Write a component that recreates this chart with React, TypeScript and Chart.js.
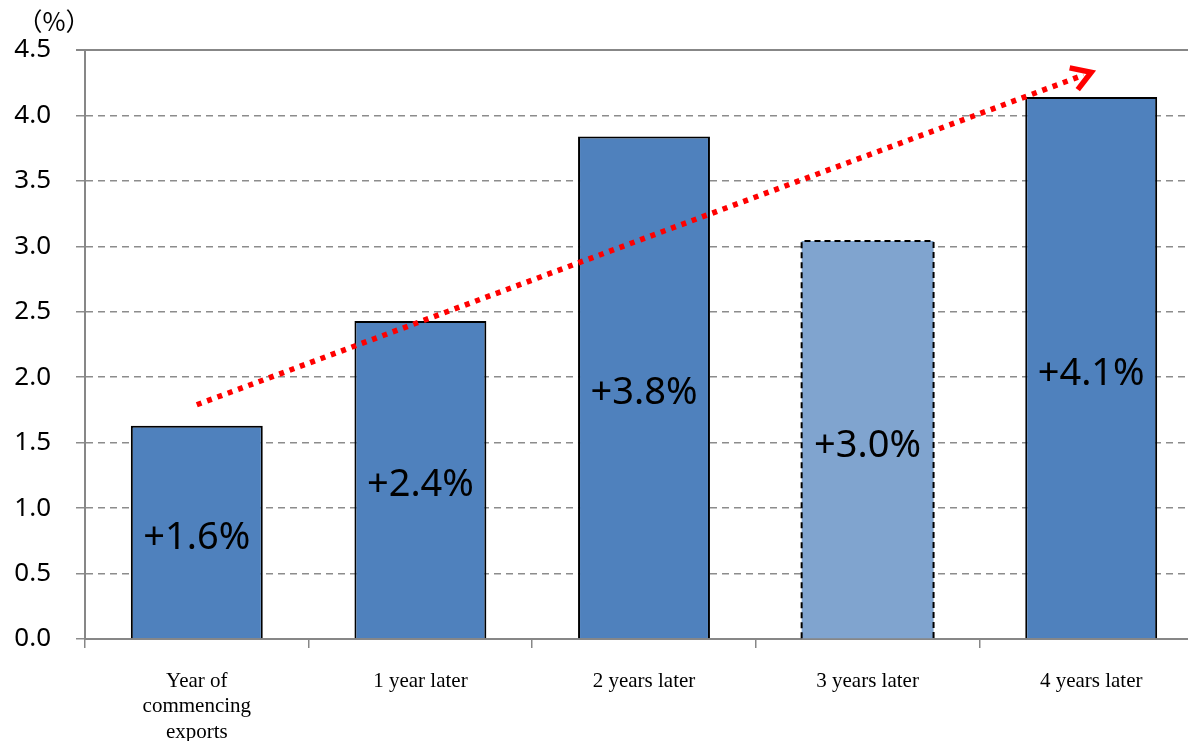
import React, { useEffect, useRef } from "react";
import { Chart, registerables } from "chart.js";

Chart.register(...registerables);

const categories: (string | string[])[] = [
  ["Year of", "commencing", "exports"],
  "1 year later",
  "2 years later",
  "3 years later",
  "4 years later",
];
const values = [1.63, 2.43, 3.84, 3.04, 4.14];
const valueLabels = ["+1.6%", "+2.4%", "+3.8%", "+3.0%", "+4.1%"];
const estimatedIndex = 3; // lighter bar with dashed outline
const yMin = 0;
const yMax = 4.5;
const yStep = 0.5;
const unitLabel = "（%）";
const trendFrom = { index: 0, value: 1.79 };
const trendTo = { index: 4, value: 4.33 };

const BAR = "#4f81bd";
const BAR_LIGHT = "#80a4cf";
const GRID = "#8c8c8c";
const AXIS = "#878787";

const overlayPlugin = {
  id: "overlay",
  afterDatasetsDraw(chart: any) {
    const { ctx, scales } = chart;
    const meta = chart.getDatasetMeta(0);
    const eb = meta.data[estimatedIndex] as any;
    if (eb) {
      const half = eb.width / 2;
      ctx.save();
      ctx.strokeStyle = "#000";
      ctx.lineWidth = 2;
      ctx.setLineDash([6, 4]);
      ctx.beginPath();
      ctx.moveTo(eb.x - half, eb.base);
      ctx.lineTo(eb.x - half, eb.y);
      ctx.lineTo(eb.x + half, eb.y);
      ctx.lineTo(eb.x + half, eb.base);
      ctx.stroke();
      ctx.restore();
    }
    ctx.save();
    ctx.fillStyle = "#000";
    ctx.font = '38px "Noto Sans", sans-serif';
    ctx.textAlign = "center";
    ctx.textBaseline = "middle";
    meta.data.forEach((b: any, i: number) => {
      ctx.fillText(valueLabels[i], b.x, (b.y + b.base) / 2 + 6);
    });
    ctx.restore();
    const x1 = scales.x.getPixelForValue(trendFrom.index);
    const y1 = scales.y.getPixelForValue(trendFrom.value);
    const x2 = scales.x.getPixelForValue(trendTo.index);
    const y2 = scales.y.getPixelForValue(trendTo.value);
    const ang = Math.atan2(y2 - y1, x2 - x1);
    ctx.save();
    ctx.strokeStyle = "#ff0000";
    ctx.lineWidth = 5.5;
    ctx.setLineDash([5, 6]);
    ctx.lineCap = "butt";
    ctx.beginPath();
    ctx.moveTo(x1, y1);
    ctx.lineTo(x2 - 8 * Math.cos(ang), y2 - 8 * Math.sin(ang));
    ctx.stroke();
    ctx.setLineDash([]);
    ctx.lineJoin = "miter";
    const len = 22;
    const spread = (32 * Math.PI) / 180;
    ctx.beginPath();
    ctx.moveTo(x2 - len * Math.cos(ang - spread), y2 - len * Math.sin(ang - spread));
    ctx.lineTo(x2, y2);
    ctx.lineTo(x2 - len * Math.cos(ang + spread), y2 - len * Math.sin(ang + spread));
    ctx.stroke();
    ctx.restore();
    ctx.save();
    ctx.fillStyle = "#000";
    ctx.font = '25px "Noto Sans CJK JP", sans-serif';
    ctx.textAlign = "center";
    ctx.textBaseline = "middle";
    ctx.fillText(unitLabel, 54, 21);
    ctx.restore();
  },
};

export default function App() {
  const ref = useRef<HTMLCanvasElement>(null);
  useEffect(() => {
    if (!ref.current) return;
    const chart = new Chart(ref.current, {
      type: "bar",
      data: {
        labels: categories,
        datasets: [
          {
            data: values,
            backgroundColor: values.map((_, i) => (i === estimatedIndex ? BAR_LIGHT : BAR)),
            borderColor: "#000",
            borderWidth: values.map((_, i) => (i === estimatedIndex ? 0 : 2)),
            borderSkipped: "bottom",
            barPercentage: 0.59,
            categoryPercentage: 1,
          },
        ],
      },
      options: {
        responsive: false,
        animation: false,
        layout: { padding: { top: 50, right: 12, left: 0, bottom: 0 } },
        plugins: { legend: { display: false }, tooltip: { enabled: false } },
        scales: {
          x: {
            offset: true,
            grid: {
              display: true,
              offset: true,
              drawOnChartArea: false,
              drawTicks: true,
              tickLength: 9,
              color: AXIS,
              lineWidth: 1.5,
            },
            border: { display: true, color: AXIS, width: 2 },
            ticks: {
              color: "#000",
              padding: 21,
              maxRotation: 0,
              autoSkip: false,
              font: { family: '"Liberation Serif", "Times New Roman", serif', size: 21, lineHeight: 1.2 },
            },
            afterFit(scale: any) {
              scale.height = 102;
            },
          },
          y: {
            min: yMin,
            max: yMax,
            grid: {
              color: (c: any) => (c.tick && c.tick.value === yMax ? AXIS : GRID),
              lineWidth: (c: any) => (c.tick && c.tick.value === yMax ? 2 : 1.5),
              tickLength: 9,
              drawTicks: true,
            },
            border: {
              display: true,
              color: AXIS,
              width: 2,
              dash: (c: any) => (c.tick && c.tick.value === yMax ? [] : [7, 5]),
            },
            ticks: {
              stepSize: yStep,
              color: "#000",
              padding: 25,
              font: { family: '"Noto Sans", sans-serif', size: 26 },
              callback: (v: any) => Number(v).toFixed(1),
            },
            afterFit(scale: any) {
              scale.width = 85;
            },
          },
        },
      },
      plugins: [overlayPlugin],
    });
    return () => chart.destroy();
  }, []);
  return (
    <div
      style={{
        position: "fixed",
        left: 0,
        top: 0,
        width: 1188,
        height: 741,
        overflow: "hidden",
        background: "#fff",
      }}
    >
      <canvas ref={ref} width={1215} height={741} style={{ display: "block" }} />
    </div>
  );
}
